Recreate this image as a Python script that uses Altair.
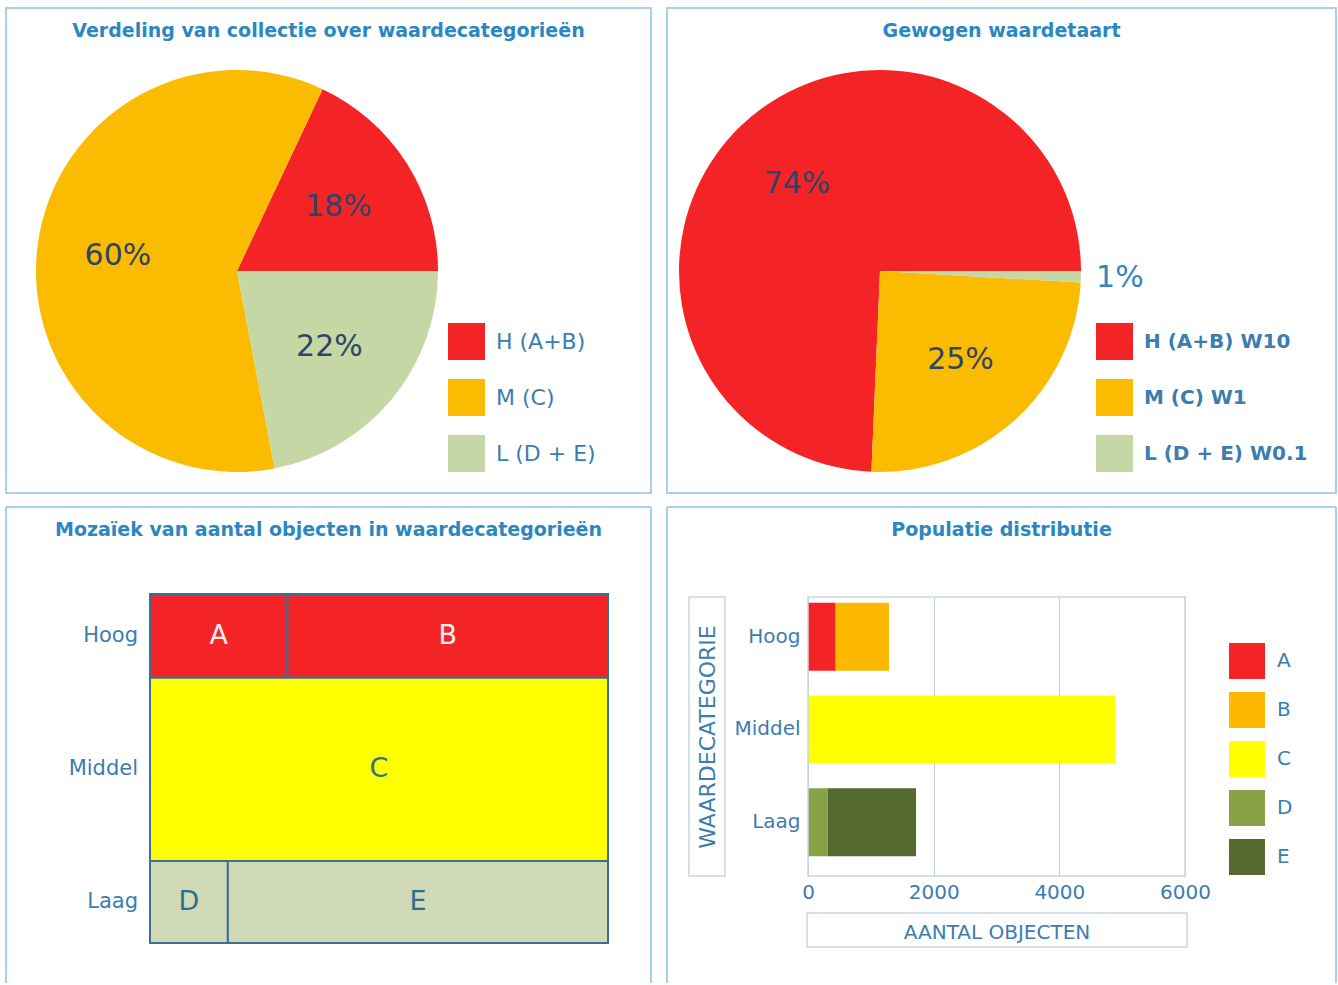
import math

import altair as alt
import pandas as pd

FONT = "DejaVu Sans"
TITLE_BLUE = "#2b87c1"
LABEL_BLUE = "#3b7db0"
BORDER = "#a9d0ea"
PIE_TEXT = "#2e4468"
PLOT_LINE = "#c9d6e0"
PIE_RADIUS = 201

# ---------------------------------------------------------------- data
# Collection split over the three value categories (percent of objects)
pie_categories = ["H (A+B)", "M (C)", "L (D + E)"]
pie_shares = [18, 60, 22]
pie_weights = [10, 1, 0.1]
pie_colors = ["#f42326", "#fbbb00", "#c5d7a4"]
pie_draw_order = [2, 1, 0]  # clockwise from 3 o'clock: L, M, H

# Mosaic of object counts: row heights and cell widths inside each row
mosaic_rows = ["Hoog", "Middel", "Laag"]
mosaic_row_shares = [0.24, 0.525, 0.235]
mosaic_row_colors = ["#f42326", "#ffff00", "#d0dab6"]
mosaic_cells = ["A", "B", "C", "D", "E"]
mosaic_cell_rows = ["Hoog", "Hoog", "Middel", "Laag", "Laag"]
mosaic_cell_shares = [0.30, 0.70, 1.0, 0.17, 0.83]

# Population distribution: number of objects per class
bar_rows = ["Hoog", "Hoog", "Middel", "Laag", "Laag"]
bar_classes = ["A", "B", "C", "D", "E"]
bar_counts = [440, 850, 4890, 315, 1405]
bar_colors = ["#f42326", "#fdb800", "#ffff00", "#87a247", "#556a2e"]
bar_ticks = [0, 2000, 4000, 6000]

# ---------------------------------------------------------------- tables
pie_df = pd.DataFrame(
    {"cat": pie_categories, "share": pie_shares, "weight": pie_weights, "ord": pie_draw_order}
)
pie_df["label"] = pie_df["share"].map(lambda v: f"{v}%")
pie_df["weighted"] = pie_df["share"] * pie_df["weight"]
pie_df["wpct"] = pie_df["weighted"] / pie_df["weighted"].sum() * 100
pie_df["wlabel"] = pie_df["wpct"].round().astype(int).astype(str) + "%"
pie_df["wcat"] = pie_df["cat"] + " W" + pie_df["weight"].map(lambda w: f"{w:g}")
pie_df["w_inner"] = [lab if p >= 5 else "" for lab, p in zip(pie_df["wlabel"], pie_df["wpct"])]
pie_df["w_outer"] = [lab if p < 5 else "" for lab, p in zip(pie_df["wlabel"], pie_df["wpct"])]

rows_df = pd.DataFrame({"row": mosaic_rows, "share": mosaic_row_shares})
rows_df["y1"] = rows_df["share"].cumsum()
rows_df["y0"] = rows_df["y1"] - rows_df["share"]
rows_df["ymid"] = (rows_df["y0"] + rows_df["y1"]) / 2

cells_df = pd.DataFrame({"cell": mosaic_cells, "row": mosaic_cell_rows, "w": mosaic_cell_shares})
cells_df["x1"] = cells_df.groupby("row", sort=False)["w"].cumsum()
cells_df["x0"] = cells_df["x1"] - cells_df["w"]
cells_df = cells_df.merge(rows_df[["row", "y0", "y1", "ymid"]], on="row")
cells_df["xmid"] = (cells_df["x0"] + cells_df["x1"]) / 2

bar_df = pd.DataFrame({"row": bar_rows, "cls": bar_classes, "count": bar_counts})
bar_df["ord"] = range(len(bar_df))

one_row = pd.DataFrame({"k": [0]})


# ---------------------------------------------------------------- helpers
def frame_box(x0, x1, y0, y1, color=BORDER, width=2):
    return (
        alt.Chart(one_row)
        .mark_rect(filled=False, stroke=color, strokeWidth=width)
        .encode(x=alt.value(x0), x2=alt.value(x1), y=alt.value(y0), y2=alt.value(y1))
    )


def open_frame(x0, x1, y0, y1):
    rule = alt.Chart(one_row).mark_rule(color=BORDER, strokeWidth=2)
    left = rule.encode(x=alt.value(x0), y=alt.value(y0), y2=alt.value(y1))
    top = rule.encode(x=alt.value(x0), x2=alt.value(x1), y=alt.value(y0))
    right = rule.encode(x=alt.value(x1), y=alt.value(y0), y2=alt.value(y1))
    return left + top + right


def panel_title(text, x, y):
    return (
        alt.Chart(pd.DataFrame({"t": [text]}))
        .mark_text(fontSize=19, fontWeight="bold", color=TITLE_BLUE, align="center",
                   baseline="alphabetic")
        .encode(text="t:N", x=alt.value(x), y=alt.value(y))
    )


def pie_panel(cat_field, value_field, inner_field, outer_field, title, center, legend_x,
              legend_bold, legend_size, frame):
    theta = alt.Theta(
        f"{value_field}:Q", stack=True,
        scale=alt.Scale(range=[math.pi / 2, math.pi / 2 + 2 * math.pi]),
    )
    base = alt.Chart(pie_df).encode(
        theta=theta, order=alt.Order("ord:Q"),
        x=alt.value(center[0]), y=alt.value(center[1]),
    )
    arcs = base.mark_arc(outerRadius=PIE_RADIUS).encode(
        color=alt.Color(
            f"{cat_field}:N",
            scale=alt.Scale(domain=list(pie_df[cat_field]), range=pie_colors),
            legend=alt.Legend(
                orient="none", legendX=legend_x, legendY=253, direction="vertical",
                title=None, symbolType="square", symbolSize=1369, symbolStrokeWidth=0,
                symbolOpacity=1, rowPadding=19, labelOffset=11, labelFontSize=legend_size,
                labelFontWeight="bold" if legend_bold else "normal",
                labelColor=LABEL_BLUE, labelLimit=300, padding=0,
            ),
        )
    )
    inner = base.mark_text(radius=120, fontSize=30, color=PIE_TEXT).encode(
        text=f"{inner_field}:N", detail=f"{cat_field}:N"
    )
    layers = [frame, arcs, inner]
    if outer_field:
        outer = base.mark_text(radius=240, fontSize=30, color="#2f87c0").encode(
            text=f"{outer_field}:N", detail=f"{cat_field}:N"
        )
        layers.append(outer)
    layers.append(title)
    return alt.layer(*layers).properties(width=402, height=402)


# ---------------------------------------------------------------- panels
# Left column panels share one origin 144 px right of their outer frame.
pie_left = pie_panel(
    "cat", "share", "label", None,
    panel_title("Verdeling van collectie over waardecategorieën", 178.5, -33),
    center=(87, 201), legend_x=298, legend_bold=False, legend_size=22,
    frame=frame_box(-144, 501, -62, 423),
)

pie_right = pie_panel(
    "wcat", "weighted", "w_inner", "w_outer",
    panel_title("Gewogen waardetaart", 322.5, -33),
    center=(201, 201), legend_x=417, legend_bold=True, legend_size=20,
    frame=frame_box(-12, 657, -62, 423),
)

mx = alt.Scale(domain=[0, 1], nice=False, zero=False)
my = alt.Scale(domain=[0, 1], nice=False, zero=False, reverse=True)

mosaic_rects = alt.Chart(cells_df).mark_rect(stroke="#3d6f95", strokeWidth=2).encode(
    x=alt.X("x0:Q", scale=mx, axis=None),
    x2="x1:Q",
    y=alt.Y("y0:Q", scale=my, axis=None),
    y2="y1:Q",
    fill=alt.Fill("row:N", scale=alt.Scale(domain=mosaic_rows, range=mosaic_row_colors),
                  legend=None),
)
mosaic_letters = alt.Chart(cells_df).mark_text(fontSize=27).encode(
    x=alt.X("xmid:Q", scale=mx, axis=None),
    y=alt.Y("ymid:Q", scale=my, axis=None),
    text="cell:N",
    color=alt.when(alt.datum.row == "Hoog")
    .then(alt.value("#fff0f0"))
    .otherwise(alt.value("#2f6f89")),
)
mosaic_row_labels = alt.Chart(rows_df).mark_text(
    fontSize=21, color=LABEL_BLUE, align="right", baseline="middle"
).encode(
    x=alt.value(-12),
    y=alt.Y("ymid:Q", scale=my, axis=None),
    text="row:N",
)
mosaic = alt.layer(
    open_frame(-144, 501, -87, 389),
    mosaic_rects,
    mosaic_letters,
    mosaic_row_labels,
    panel_title("Mozaïek van aantal objecten in waardecategorieën", 178.5, -58),
).properties(width=458, height=349)

bars = alt.Chart(bar_df).mark_bar().encode(
    x=alt.X(
        "count:Q", stack="zero",
        scale=alt.Scale(domain=[0, 6000], nice=False),
        axis=alt.Axis(
            values=bar_ticks, format="d", grid=True, gridColor="#bfcdd8", ticks=False,
            domain=False, labelFontSize=20, labelColor=LABEL_BLUE, labelPadding=6,
            labelFlush=False, title="AANTAL OBJECTEN", titleX=188.5, titleY=56,
            titleAlign="center", titleBaseline="middle", titleFontSize=20,
            titleFontWeight="normal", titleColor=LABEL_BLUE,
        ),
    ),
    y=alt.Y(
        "row:N", sort=mosaic_rows,
        scale=alt.Scale(paddingInner=0.267, paddingOuter=0.1375, align=0.225),
        axis=alt.Axis(
            ticks=False, domain=False, grid=False, labelFontSize=20,
            labelColor=LABEL_BLUE, labelPadding=8, title="WAARDECATEGORIE",
            titleX=-101, titleY=139.5, titleAngle=270, titleAlign="center",
            titleBaseline="middle", titleFontSize=22, titleFontWeight="normal",
            titleColor=LABEL_BLUE,
        ),
    ),
    color=alt.Color(
        "cls:N",
        scale=alt.Scale(domain=bar_classes, range=bar_colors),
        legend=alt.Legend(
            orient="none", legendX=421, legendY=46, direction="vertical", title=None,
            symbolType="square", symbolSize=1296, symbolStrokeWidth=0, symbolOpacity=1,
            rowPadding=13, labelOffset=12, labelFontSize=20, labelColor=LABEL_BLUE,
            padding=0,
        ),
    ),
    order=alt.Order("ord:Q"),
)
bar_panel = alt.layer(
    open_frame(-141, 528, -90, 386),
    bars,
    frame_box(0, 377, 0, 279, color=PLOT_LINE, width=1.5),
    frame_box(-119, -83, 0, 279, color=PLOT_LINE, width=1.5),
    frame_box(-1, 379, 316, 350, color=PLOT_LINE, width=1.5),
    panel_title("Populatie distributie", 193.5, -61),
).properties(width=377, height=279)

# ---------------------------------------------------------------- layout
chart = (
    alt.concat(pie_left, pie_right, mosaic, bar_panel, columns=2, align="none",
               spacing={"row": 12, "column": 14})
    .resolve_scale(color="independent", theta="independent", fill="independent",
                   x="independent", y="independent")
    .properties(padding={"left": 5, "top": 7, "right": 0, "bottom": 0}, background="white")
    .configure(font=FONT)
    .configure_view(strokeWidth=0)
)

chart.save("out.html", embed_options={"renderer": "svg", "actions": False})
